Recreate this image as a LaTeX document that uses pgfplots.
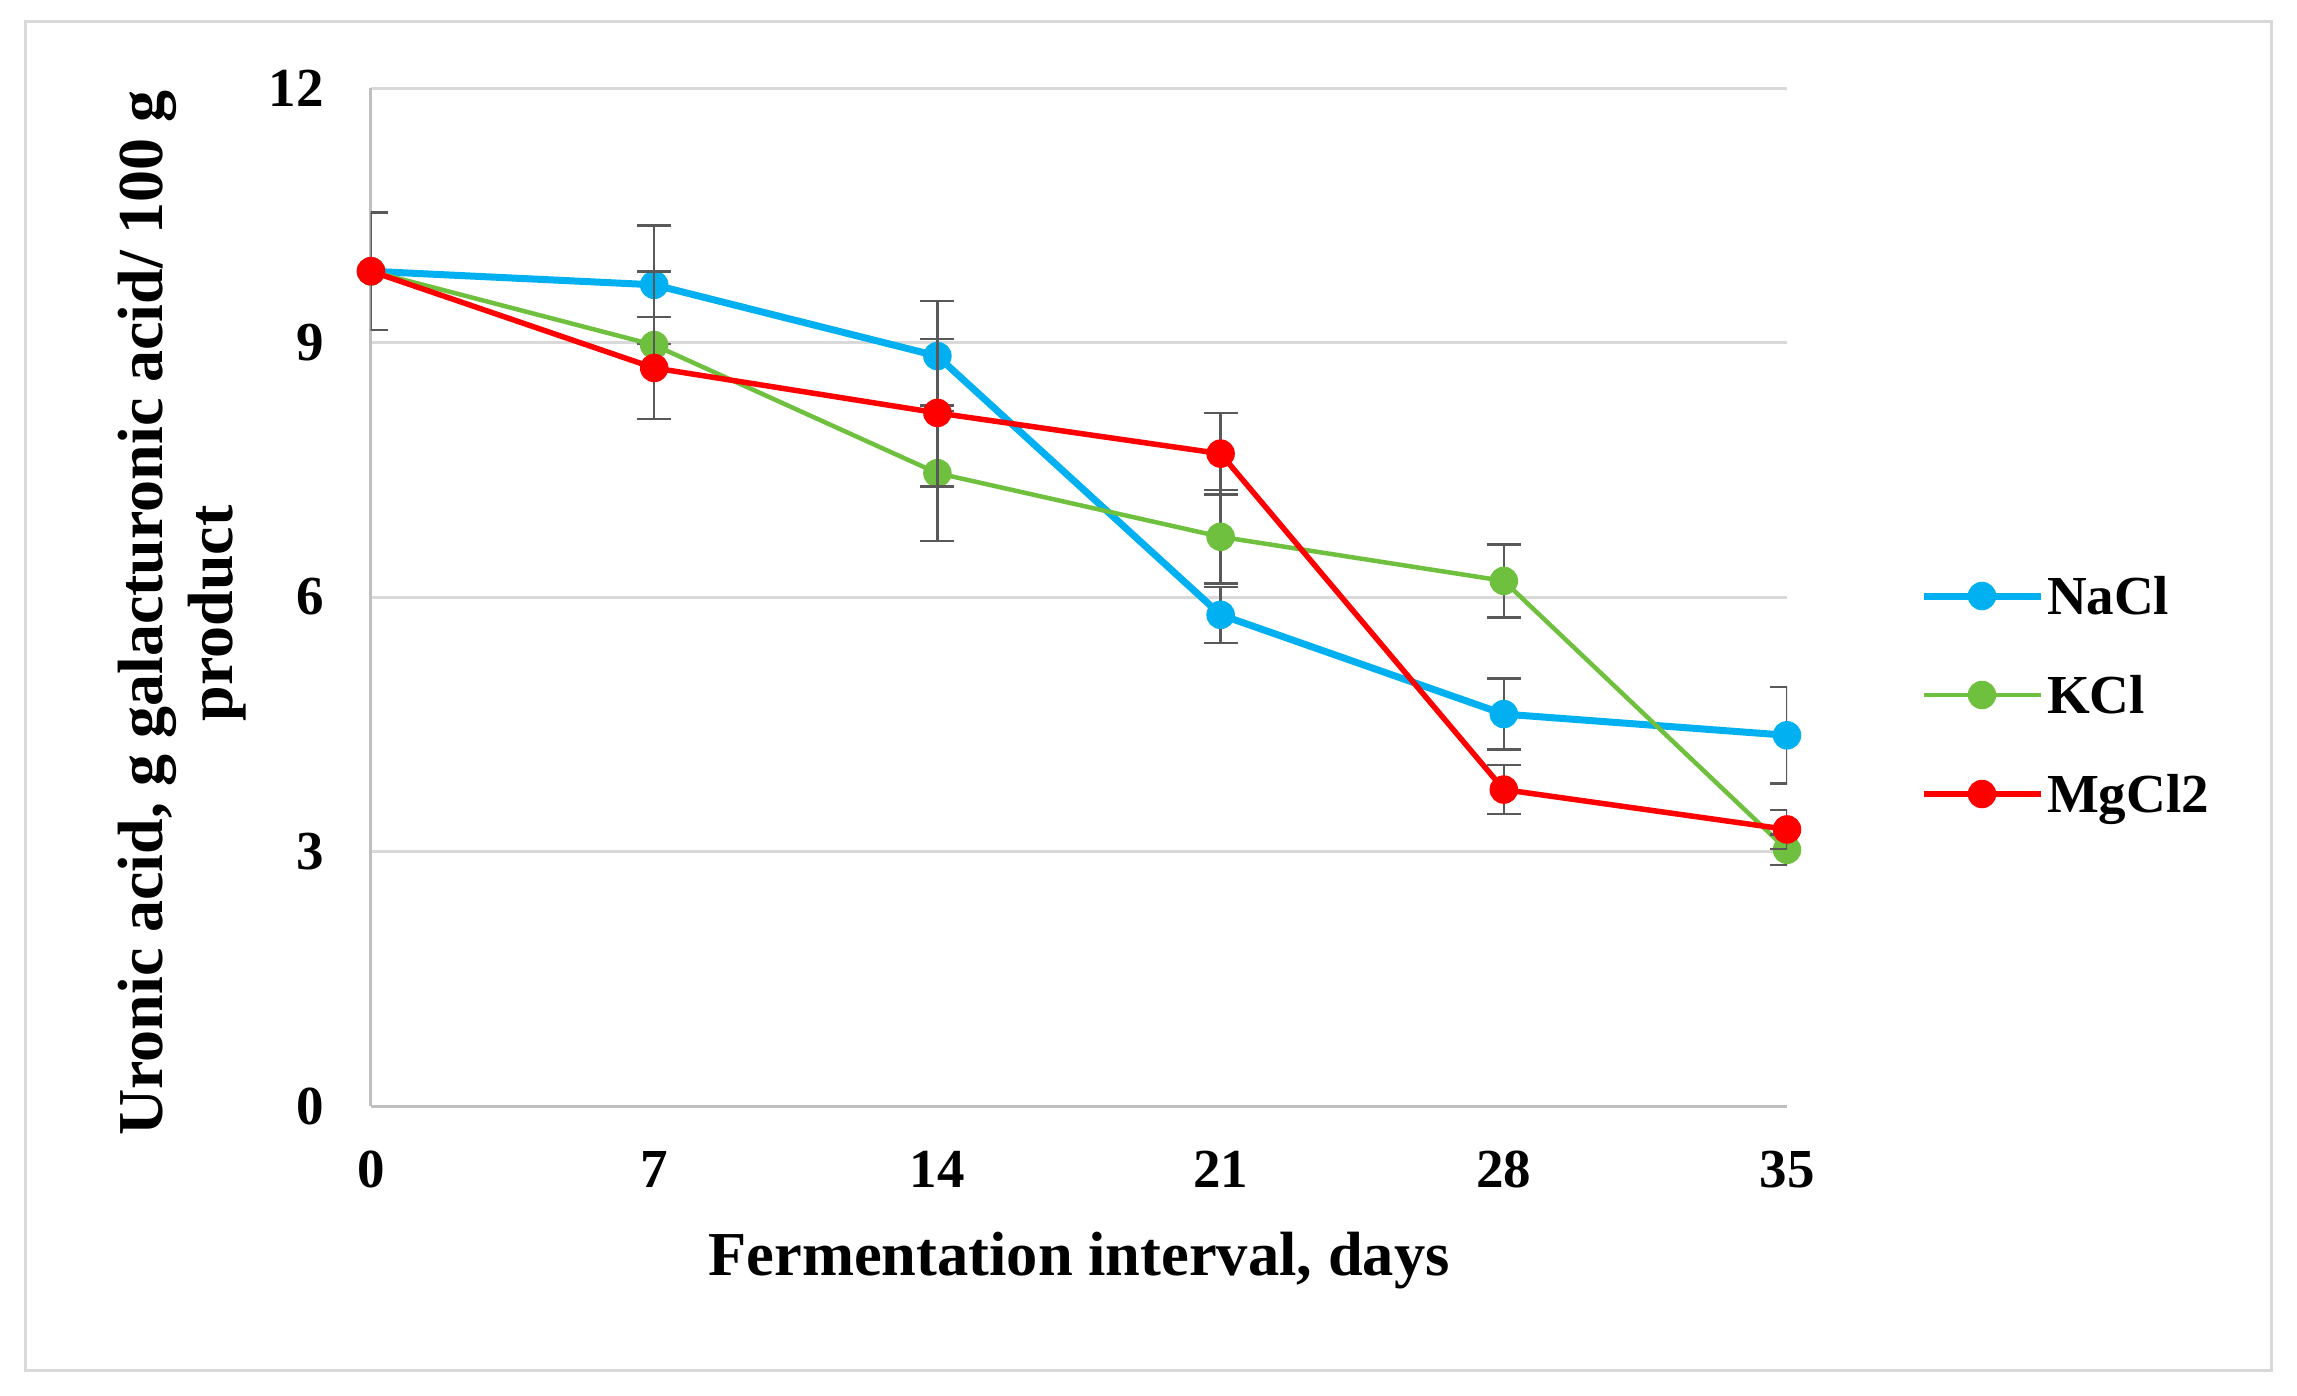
\documentclass[border=0pt]{standalone}
\usepackage{fontspec}
\setmainfont{Liberation Serif}
\usepackage{pgfplots}
\pgfplotsset{compat=1.18}

\definecolor{nacl}{RGB}{0,176,240}
\definecolor{kcl}{RGB}{112,192,64}
\definecolor{mgcl}{RGB}{255,0,0}
\definecolor{errgray}{RGB}{89,89,89}
\definecolor{gridgray}{RGB}{217,217,217}
\definecolor{axgray}{RGB}{191,191,191}
\definecolor{framegray}{RGB}{217,217,217}

\begin{document}
\begin{tikzpicture}
\begin{axis}[
    scale only axis,
    width=283.2pt, height=203.6pt,
    xmin=0, xmax=35, ymin=0, ymax=12,
    xtick={0,7,...,35}, ytick={0,3,...,12},
    axis x line*=bottom, axis y line*=left,
    axis line style={draw=axgray, line width=0.6pt, -},
    ymajorgrids,
    grid style={draw=gridgray, line width=0.6pt},
    major tick length=0pt,
    clip mode=individual,
    tick label style={font=\fontsize{11}{13}\selectfont\bfseries,
        /pgf/number format/assume math mode=true, inner sep=0pt},
    yticklabel style={anchor=east, xshift=-9.2pt},
    xticklabel style={anchor=north, yshift=-8.8pt},
    xlabel={Fermentation interval, days},
    xlabel style={at={(axis description cs:0.5,0)}, anchor=base, yshift=-33.8pt,
        font=\fontsize{12.5}{14.2}\selectfont\bfseries},
    ylabel={Uronic acid, g galacturonic acid/ 100 g\\product},
    ylabel style={at={(axis description cs:-0.1335,0.484)}, anchor=center,
        align=center, font=\fontsize{12.8}{14}\selectfont\bfseries},
    legend cell align=left,
    legend style={at={(axis description cs:1.0932,0.5199)}, anchor=north west,
        draw=none, fill=none, inner sep=0pt, row sep=12.5pt, column sep=0.6pt,
        font=\fontsize{11}{13}\selectfont\bfseries,
        nodes={inner sep=0pt, text height=7.3pt, text depth=0pt}},
    legend image code/.code={
        \draw[mark repeat=2, mark phase=2] plot coordinates {(0pt,0pt) (11.7pt,0pt) (23.4pt,0pt)};},
    error bars/y dir=both,
    error bars/y explicit,
    error bars/error bar style={draw=errgray, line width=0.5pt, solid},
    error bars/error mark options={draw=errgray, line width=0.5pt, mark size=3.4pt, rotate=90},
]

% NaCl
\addplot[color=nacl, line width=1.4pt, mark=*, mark size=2.7pt,
    mark options={fill=nacl, line width=0.3pt}]
    table[x=d, y=v, y error=e] {
    d  v     e
    0  9.84  0.69
    7  9.68  0.70
    14 8.84  0.65
    21 5.79  0.33
    28 4.62  0.42
    35 4.37  0.57
};
% KCl
\addplot[color=kcl, line width=0.9pt, mark=*, mark size=2.7pt,
    mark options={fill=kcl, line width=0.3pt}]
    table[x=d, y=v, y error=e] {
    d  v     e
    0  9.84  0.69
    7  8.97  0.87
    14 7.46  0.80
    21 6.71  0.55
    28 6.19  0.43
    35 3.02  0.18
};
% MgCl2
\addplot[color=mgcl, line width=1.1pt, mark=*, mark size=2.7pt,
    mark options={fill=mgcl, line width=0.3pt}]
    table[x=d, y=v, y error=e] {
    d  v     e
    0  9.84  0.69
    7  8.70  0.60
    14 8.17  0.87
    21 7.69  0.48
    28 3.73  0.29
    35 3.26  0.23
};
\legend{NaCl, KCl, MgCl2}
\end{axis}
\draw[framegray, line width=0.6pt] (-69pt,-52.8pt) rectangle (380pt,216.8pt);
\pgfresetboundingbox
\path (-74.2pt,-57.8pt) rectangle (385.2pt,221.2pt);
\end{tikzpicture}
\end{document}
